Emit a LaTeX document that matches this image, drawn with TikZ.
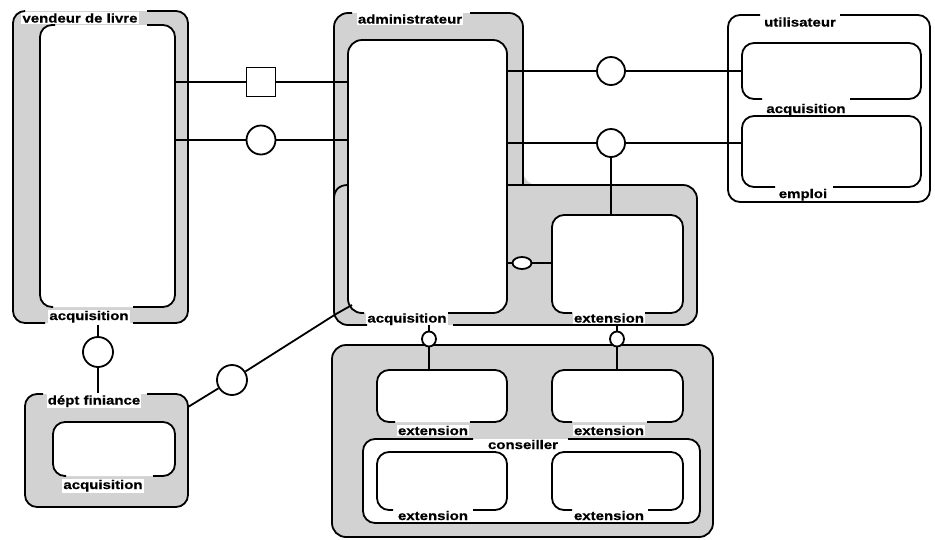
\documentclass[tikz,border=0pt]{standalone}
\usepackage{fontspec}
\newfontfamily\lfont{Liberation Sans}[FakeStretch=1.2,FakeBold=0.6]
\usetikzlibrary{shapes.geometric}
\definecolor{stip}{RGB}{210,210,210}
\begin{document}
\begin{tikzpicture}[x=1pt,y=-1pt,line width=1.8pt,
  rc/.style={rounded corners=12pt},
  rcb/.style={rounded corners=14pt},
  lab/.style={font=\lfont\fontsize{12.5}{14}\selectfont\bfseries, inner sep=1pt, anchor=base},
  labw/.style={lab, fill=white},
  conn/.style={circle, draw, fill=white, minimum size=29pt, inner sep=0pt},
  sqr/.style={rectangle, draw, fill=white, minimum size=29pt, inner sep=0pt},
  small/.style={ellipse, draw, fill=white, inner sep=0pt, minimum width=14pt, minimum height=15pt}]
\useasboundingbox (0,0) rectangle (935,539);
% ---------- fills
\fill[stip,rc] (13,11) rectangle (188,323);
\fill[white,rc] (40,25) rectangle (175,307);
\fill[stip,rcb] (334,13) -- (523,13) -- (523,185) -- (697,185) -- (697,325) -- (334,325) -- cycle;
\fill[white,rcb] (348,40) rectangle (507,313);
\fill[white,rc] (552,215) rectangle (683,313);
\fill[stip,rc] (25,394) rectangle (188,507);
\fill[white,rc] (53,422) rectangle (175,476);
\fill[stip,rcb] (332,345) rectangle (713,537);
\fill[white,rc] (363,439) rectangle (700,523);
\fill[white,rc] (377,370) rectangle (507,422);
\fill[white,rc] (552,370) rectangle (683,422);
\fill[white,rc] (377,452) rectangle (507,510);
\fill[white,rc] (552,452) rectangle (683,510);
% ---------- labels
\node[labw] (lvend) at (80,22.5) {vendeur de livre};
\node[labw] (lvacq) at (89,320) {acquisition};
\node[labw] (ldept) at (94,404.5) {dépt finiance};
\node[labw] (ldacq) at (103,489) {acquisition};
\node[labw] (ladm) at (410,23.5) {administrateur};
\node[labw] (laacq) at (407,322.5) {acquisition};
\node[labw] (laext) at (609,322.5) {extension};
\node[lab] (lutil) at (800,26.5) {utilisateur};
\node[lab] (luacq) at (806,113) {acquisition};
\node[lab] (lemp) at (803,198) {emploi};
\node[labw] (lc1) at (433,435) {extension};
\node[labw] (lc2) at (609,435) {extension};
\node[labw] (lcons) at (523,449) {conseiller};
\node[labw] (lc3) at (433,520) {extension};
\node[labw] (lc4) at (609,520) {extension};
% ---------- vendeur de livre
\draw[rc] (24,11) -- (13,11) -- (13,323) -- (45,323);
\draw[rc] (133,323) -- (188,323) -- (188,11) -- (147,11);
\draw[rc] (55,25) -- (40,25) -- (40,307) -- (53,307);
\draw[rc] (133,307) -- (175,307) -- (175,25) -- (147,25);
% ---------- dept finiance
\draw[rc] (147,394) -- (188,394) -- (188,507) -- (25,507) -- (25,394) -- (43,394);
\draw[rc] (66,476) -- (53,476) -- (53,422) -- (175,422) -- (175,476) -- (153,476);
% ---------- administrateur
\draw[rcb] (470,13) -- (523,13) -- (523,185);
\draw[rcb] (507,185) -- (697,185) -- (697,325) -- (453,325);
\draw[rcb] (367,325) -- (334,325) -- (334,13) -- (352,13);
\draw (334,199) .. controls (334,190) and (339,185) .. (348,185);
\draw[rcb] (364,313) -- (348,313) -- (348,40) -- (507,40) -- (507,313) -- (448,313);
\draw[rc] (572,313) -- (552,313) -- (552,215) -- (683,215) -- (683,313) -- (645,313);
% ---------- utilisateur
\draw[rc] (840,15) -- (930,15) -- (930,202) -- (728,202) -- (728,15) -- (760,15);
\draw[rc] (762,99) -- (742,99) -- (742,43) -- (921,43) -- (921,99) -- (850,99);
\draw[rc] (775,187) -- (742,187) -- (742,116) -- (921,116) -- (921,187) -- (833,187);
% ---------- conseiller
\draw[rcb] (332,345) rectangle (713,537);
\draw[rc] (568,439) -- (700,439) -- (700,523) -- (363,523) -- (363,439) -- (473,439);
\draw[rc] (395,422) -- (377,422) -- (377,370) -- (507,370) -- (507,422) -- (470,422);
\draw[rc] (572,422) -- (552,422) -- (552,370) -- (683,370) -- (683,422) -- (647,422);
\draw[rc] (393,510) -- (377,510) -- (377,452) -- (507,452) -- (507,510) -- (473,510);
\draw[rc] (572,510) -- (552,510) -- (552,452) -- (683,452) -- (683,510) -- (648,510);
% ---------- connectors
\coordinate (vR1) at (175,82); \coordinate (vR2) at (175,140);
\coordinate (aL1) at (348,82); \coordinate (aL2) at (348,140);
\node[sqr] (sq) at (261,82) {};
\node[conn] (c1) at (261,140) {};
\draw (vR1) -- (sq) -- (aL1);
\draw (vR2) -- (c1) -- (aL2);
\node[conn, minimum size=30pt] (c2) at (98,352) {};
\draw (lvacq.south -| c2) -- (c2) -- (ldept.north -| c2);
\node[conn, minimum size=30pt] (c3) at (232,380) {};
\coordinate (dR) at (188,407);
\coordinate (aBL) at (336,314);
\coordinate (aIn) at (352,305);
\draw (dR) -- (c3) -- (aBL) -- (aIn);
\coordinate (aR1) at (507,71); \coordinate (aR2) at (507,143);
\node[conn, minimum size=28pt] (c4) at (611,71) {};
\node[conn, minimum size=28pt] (c5) at (611,143) {};
\coordinate (uA) at (742,71); \coordinate (uE) at (742,143);
\draw (aR1) -- (c4) -- (uA);
\draw (aR2) -- (c5) -- (uE);
\coordinate (eT) at (611,215);
\draw (c5) -- (eT);
\coordinate (aR3) at (507,263); \coordinate (eL) at (552,263);
\node[small, minimum width=19pt, minimum height=12pt] (ov1) at (522,263) {};
\draw (aR3) -- (ov1) -- (eL);
\node[small] (ov2) at (429,339) {};
\node[small] (ov3) at (617,339) {};
\coordinate (aB2) at (429,325); \coordinate (k1) at (429,370);
\coordinate (aB3) at (617,325); \coordinate (k2) at (617,370);
\draw (aB2) -- (ov2) -- (k1);
\draw (aB3) -- (ov3) -- (k2);
\end{tikzpicture}
\end{document}
